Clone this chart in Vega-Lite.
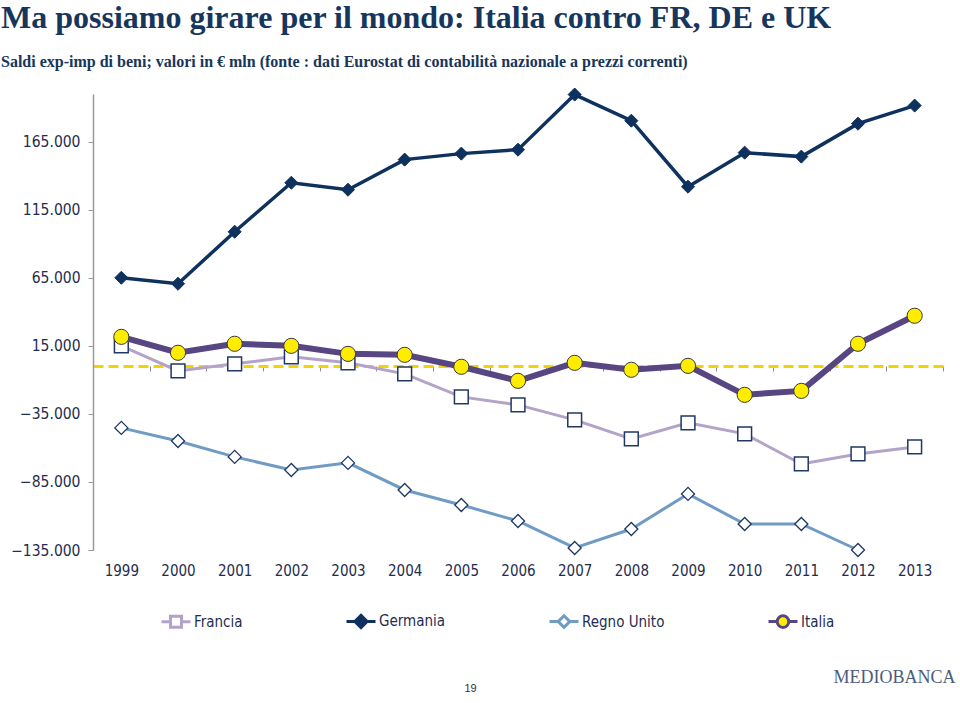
{
  "$schema": "https://vega.github.io/schema/vega-lite/v6.json",
  "width": 850,
  "height": 456,
  "autosize": {"type": "none"},
  "padding": {"left": 93, "top": 94, "right": 17, "bottom": 153},
  "background": "white",
  "config": {"view": {"stroke": null}},
  "title": {
    "text": "Ma possiamo girare per il mondo: Italia contro FR, DE e UK",
    "subtitle": "Saldi exp-imp di beni; valori in € mln (fonte : dati Eurostat di contabilità nazionale a prezzi correnti)",
    "anchor": "start",
    "frame": "group",
    "dx": -92,
    "offset": 15,
    "font": "Liberation Serif",
    "fontSize": 32,
    "fontWeight": "bold",
    "color": "#17365d",
    "subtitleFont": "Liberation Serif",
    "subtitleFontSize": 16,
    "subtitleFontWeight": "bold",
    "subtitleColor": "#17365d",
    "subtitlePadding": 19
  },
  "data": {
    "values": [
      {"year": "1999", "country": "Francia", "value": 15000},
      {"year": "2000", "country": "Francia", "value": -3400},
      {"year": "2001", "country": "Francia", "value": 1800},
      {"year": "2002", "country": "Francia", "value": 6900},
      {"year": "2003", "country": "Francia", "value": 2500},
      {"year": "2004", "country": "Francia", "value": -5600},
      {"year": "2005", "country": "Francia", "value": -22500},
      {"year": "2006", "country": "Francia", "value": -28400},
      {"year": "2007", "country": "Francia", "value": -39400},
      {"year": "2008", "country": "Francia", "value": -53400},
      {"year": "2009", "country": "Francia", "value": -41600},
      {"year": "2010", "country": "Francia", "value": -49700},
      {"year": "2011", "country": "Francia", "value": -71800},
      {"year": "2012", "country": "Francia", "value": -64400},
      {"year": "2013", "country": "Francia", "value": -59300},
      {"year": "1999", "country": "Germania", "value": 65000},
      {"year": "2000", "country": "Germania", "value": 60600},
      {"year": "2001", "country": "Germania", "value": 98800},
      {"year": "2002", "country": "Germania", "value": 134800},
      {"year": "2003", "country": "Germania", "value": 129700},
      {"year": "2004", "country": "Germania", "value": 151800},
      {"year": "2005", "country": "Germania", "value": 156200},
      {"year": "2006", "country": "Germania", "value": 159100},
      {"year": "2007", "country": "Germania", "value": 199600},
      {"year": "2008", "country": "Germania", "value": 180400},
      {"year": "2009", "country": "Germania", "value": 131900},
      {"year": "2010", "country": "Germania", "value": 156900},
      {"year": "2011", "country": "Germania", "value": 154000},
      {"year": "2012", "country": "Germania", "value": 178200},
      {"year": "2013", "country": "Germania", "value": 191500},
      {"year": "1999", "country": "Regno Unito", "value": -45300},
      {"year": "2000", "country": "Regno Unito", "value": -54900},
      {"year": "2001", "country": "Regno Unito", "value": -66600},
      {"year": "2002", "country": "Regno Unito", "value": -76200},
      {"year": "2003", "country": "Regno Unito", "value": -71000},
      {"year": "2004", "country": "Regno Unito", "value": -90900},
      {"year": "2005", "country": "Regno Unito", "value": -101900},
      {"year": "2006", "country": "Regno Unito", "value": -113700},
      {"year": "2007", "country": "Regno Unito", "value": -133500},
      {"year": "2008", "country": "Regno Unito", "value": -119600},
      {"year": "2009", "country": "Regno Unito", "value": -93800},
      {"year": "2010", "country": "Regno Unito", "value": -115900},
      {"year": "2011", "country": "Regno Unito", "value": -115900},
      {"year": "2012", "country": "Regno Unito", "value": -135000},
      {"year": "1999", "country": "Italia", "value": 21600},
      {"year": "2000", "country": "Italia", "value": 9900},
      {"year": "2001", "country": "Italia", "value": 16500},
      {"year": "2002", "country": "Italia", "value": 15000},
      {"year": "2003", "country": "Italia", "value": 9100},
      {"year": "2004", "country": "Italia", "value": 8400},
      {"year": "2005", "country": "Italia", "value": -400},
      {"year": "2006", "country": "Italia", "value": -10700},
      {"year": "2007", "country": "Italia", "value": 2500},
      {"year": "2008", "country": "Italia", "value": -2600},
      {"year": "2009", "country": "Italia", "value": 300},
      {"year": "2010", "country": "Italia", "value": -21000},
      {"year": "2011", "country": "Italia", "value": -18100},
      {"year": "2012", "country": "Italia", "value": 16500},
      {"year": "2013", "country": "Italia", "value": 37100}
    ]
  },
  "encoding": {
    "x": {
      "field": "year",
      "type": "ordinal",
      "scale": {"type": "band", "paddingInner": 0, "paddingOuter": 0},
      "axis": {
        "orient": "bottom",
        "offset": -184,
        "domainColor": "#f2d400",
        "domainWidth": 3,
        "domainDash": [10, 5],
        "tickBand": "extent",
        "tickColor": "#8c8c8c",
        "tickSize": 5,
        "tickWidth": 1,
        "labelAngle": 0,
        "labelPadding": 192,
        "labelFont": "DejaVu Sans Condensed",
        "labelFontSize": 15,
        "labelColor": "#1f2d50",
        "title": "19",
        "titleFont": "Liberation Sans",
        "titleFontSize": 11,
        "titleFontWeight": "normal",
        "titleColor": "#333333",
        "titleX": 377,
        "titleY": 322,
        "titleAlign": "center",
        "titleBaseline": "middle"
      }
    },
    "y": {
      "field": "value",
      "type": "quantitative",
      "scale": {"domain": [-135000, 200000], "nice": false, "zero": false},
      "axis": {
        "values": [-135000, -85000, -35000, 15000, 65000, 115000, 165000],
        "labelExpr": "replace(format(datum.value, ','), ',', '.')",
        "grid": false,
        "domainColor": "#9a9a9a",
        "domainWidth": 1.5,
        "tickColor": "#9a9a9a",
        "tickSize": 5,
        "labelPadding": 8,
        "labelFont": "DejaVu Sans Condensed",
        "labelFontSize": 15.5,
        "labelColor": "#1f2d50",
        "title": "MEDIOBANCA",
        "titleAngle": 0,
        "titleX": 801,
        "titleY": 583,
        "titleAlign": "center",
        "titleBaseline": "middle",
        "titleFont": "Liberation Serif",
        "titleFontSize": 18,
        "titleFontWeight": "normal",
        "titleColor": "#4b5d7a"
      }
    }
  },
  "layer": [
    {
      "transform": [{"filter": "datum.country == 'Regno Unito'"}],
      "mark": {
        "type": "line",
        "color": "#6f9bc4",
        "strokeWidth": 3,
        "point": {"shape": "diamond", "filled": true, "fill": "white", "stroke": "#1f3864", "strokeWidth": 1.3, "size": 170, "opacity": 1}
      }
    },
    {
      "transform": [{"filter": "datum.country == 'Francia'"}],
      "mark": {
        "type": "line",
        "color": "#b3a3c9",
        "strokeWidth": 3,
        "point": {"shape": "square", "filled": true, "fill": "white", "stroke": "#1f3864", "strokeWidth": 1.5, "size": 190, "opacity": 1}
      }
    },
    {
      "transform": [{"filter": "datum.country == 'Germania'"}],
      "mark": {
        "type": "line",
        "color": "#0f315e",
        "strokeWidth": 3.5,
        "point": {"shape": "diamond", "filled": true, "fill": "#0f315e", "stroke": "#0f315e", "strokeWidth": 1, "size": 170, "opacity": 1}
      }
    },
    {
      "transform": [{"filter": "datum.country == 'Italia'"}],
      "mark": {
        "type": "line",
        "color": "#574682",
        "strokeWidth": 6,
        "point": {"shape": "circle", "filled": true, "fill": "#ffed00", "stroke": "#3a3a3a", "strokeWidth": 1, "size": 230, "opacity": 1}
      }
    },
    {
      "transform": [{"filter": "datum.value > 1000000000"}],
      "mark": {"type": "point", "filled": true, "opacity": 1},
      "encoding": {
        "fill": {
          "field": "country",
          "type": "nominal",
          "scale": {"domain": ["Francia", "Germania", "Regno Unito", "Italia"], "range": ["white", "#0f315e", "white", "#ffed00"]},
          "legend": {
            "orient": "none",
            "legendX": 67,
            "legendY": 511,
            "direction": "horizontal",
            "columns": 4,
            "columnPadding": 97,
            "title": null,
            "symbolSize": 841,
            "symbolStrokeWidth": 3,
            "labelFont": "DejaVu Sans Condensed",
            "labelFontSize": 15,
            "labelColor": "#1f2d50",
            "labelOffset": 2,
            "encode": {"symbols": {"update": {
              "fill": {"scale": "fill", "field": "value"},
              "stroke": {"scale": "stroke", "field": "value"},
              "shape": {"scale": "shape", "field": "value"},
              "strokeWidth": {"value": 3},
              "opacity": {"value": 1},
              "fillOpacity": {"value": 1},
              "strokeOpacity": {"value": 1}
            }}}
          }
        },
        "stroke": {
          "field": "country",
          "type": "nominal",
          "scale": {"domain": ["Francia", "Germania", "Regno Unito", "Italia"], "range": ["#b3a3c9", "#0f315e", "#6f9bc4", "#574682"]},
          "legend": {
            "orient": "none",
            "legendX": 67,
            "legendY": 511,
            "direction": "horizontal",
            "columns": 4,
            "columnPadding": 97,
            "title": null,
            "symbolSize": 841,
            "symbolStrokeWidth": 3,
            "labelFont": "DejaVu Sans Condensed",
            "labelFontSize": 15,
            "labelColor": "#1f2d50",
            "labelOffset": 2
          }
        },
        "shape": {
          "field": "country",
          "type": "nominal",
          "scale": {
            "domain": ["Francia", "Germania", "Regno Unito", "Italia"],
            "range": [
              "M-1,0H-0.38M0.38,0H1M-0.38,-0.38H0.38V0.38H-0.38Z",
              "M-1,0H1M0,-0.42L0.42,0L0,0.42L-0.42,0Z",
              "M-1,0H-0.4M0.4,0H1M0,-0.4L0.4,0L0,0.4L-0.4,0Z",
              "M-1,0H-0.4M0.4,0H1M-0.4,0A0.4,0.4 0 1,0 0.4,0A0.4,0.4 0 1,0 -0.4,0Z"
            ]
          },
          "legend": {
            "orient": "none",
            "legendX": 67,
            "legendY": 511,
            "direction": "horizontal",
            "columns": 4,
            "columnPadding": 97,
            "title": null,
            "symbolSize": 841,
            "symbolStrokeWidth": 3,
            "labelFont": "DejaVu Sans Condensed",
            "labelFontSize": 15,
            "labelColor": "#1f2d50",
            "labelOffset": 2
          }
        }
      }
    }
  ]
}
